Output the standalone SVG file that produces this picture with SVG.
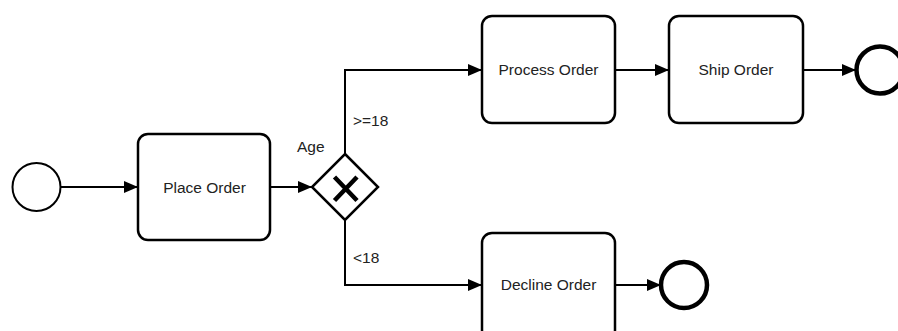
<svg xmlns="http://www.w3.org/2000/svg" width="898" height="331" viewBox="0 0 898 331">
  <style>
    .task { fill: #ffffff; stroke: #000000; stroke-width: 2.5; }
    .flow { fill: none; stroke: #000000; stroke-width: 2; marker-end: url(#arrow); }
    .label { font-family: "Liberation Sans", Arial, sans-serif; font-size: 15.5px; fill: #222222; }
    .mid { text-anchor: middle; }
    .start { fill: #ffffff; stroke: #000000; stroke-width: 2; }
    .end { fill: #ffffff; stroke: #000000; stroke-width: 4.5; }
  </style>
  <defs>
    <marker id="arrow" viewBox="0 0 14 12" refX="14" refY="6" markerWidth="14" markerHeight="12" markerUnits="userSpaceOnUse" orient="auto">
      <path d="M0,0 L14,6 L0,12 Z" fill="#000000"/>
    </marker>
  </defs>

  <rect width="898" height="331" fill="#ffffff"/>

  <!-- sequence flows -->
  <g id="connectors">
    <path class="flow" d="M61,187 H138"/>
    <path class="flow" d="M270,187 H312"/>
    <path class="flow" d="M345,154 V70 H482"/>
    <path class="flow" d="M615,70 H669"/>
    <path class="flow" d="M803,70 H856"/>
    <path class="flow" d="M345,220 V285 H482"/>
    <path class="flow" d="M615,285 H661"/>
    <text class="label" x="353" y="126">&gt;=18</text>
    <text class="label" x="353" y="263">&lt;18</text>
  </g>

  <g id="start-event">
    <circle class="start" cx="36.5" cy="187" r="24"/>
  </g>

  <g id="place-order">
    <rect class="task" x="138" y="134" width="132" height="106" rx="10"/>
    <text class="label mid" x="204.5" y="193">Place Order</text>
  </g>

  <g id="age-gateway">
    <path d="M345,154 L378,187 L345,220 L312,187 Z" fill="#ffffff" stroke="#000000" stroke-width="2.5"/>
    <path d="M334.5,177 L357,200.5 M357,177 L334.5,200.5" stroke="#000000" stroke-width="4.5" fill="none"/>
    <text class="label" x="297" y="152">Age</text>
  </g>

  <g id="process-order">
    <rect class="task" x="482" y="16" width="133" height="107" rx="10"/>
    <text class="label mid" x="548.5" y="75">Process Order</text>
  </g>

  <g id="ship-order">
    <rect class="task" x="669" y="16" width="134" height="107" rx="10"/>
    <text class="label mid" x="736" y="75">Ship Order</text>
  </g>

  <g id="shipped-end">
    <circle class="end" cx="880" cy="70" r="23.5"/>
  </g>

  <g id="decline-order">
    <rect class="task" x="482" y="233" width="133" height="107" rx="10"/>
    <text class="label mid" x="548.5" y="290">Decline Order</text>
  </g>

  <g id="declined-end">
    <circle class="end" cx="684" cy="285" r="23"/>
  </g>
</svg>
